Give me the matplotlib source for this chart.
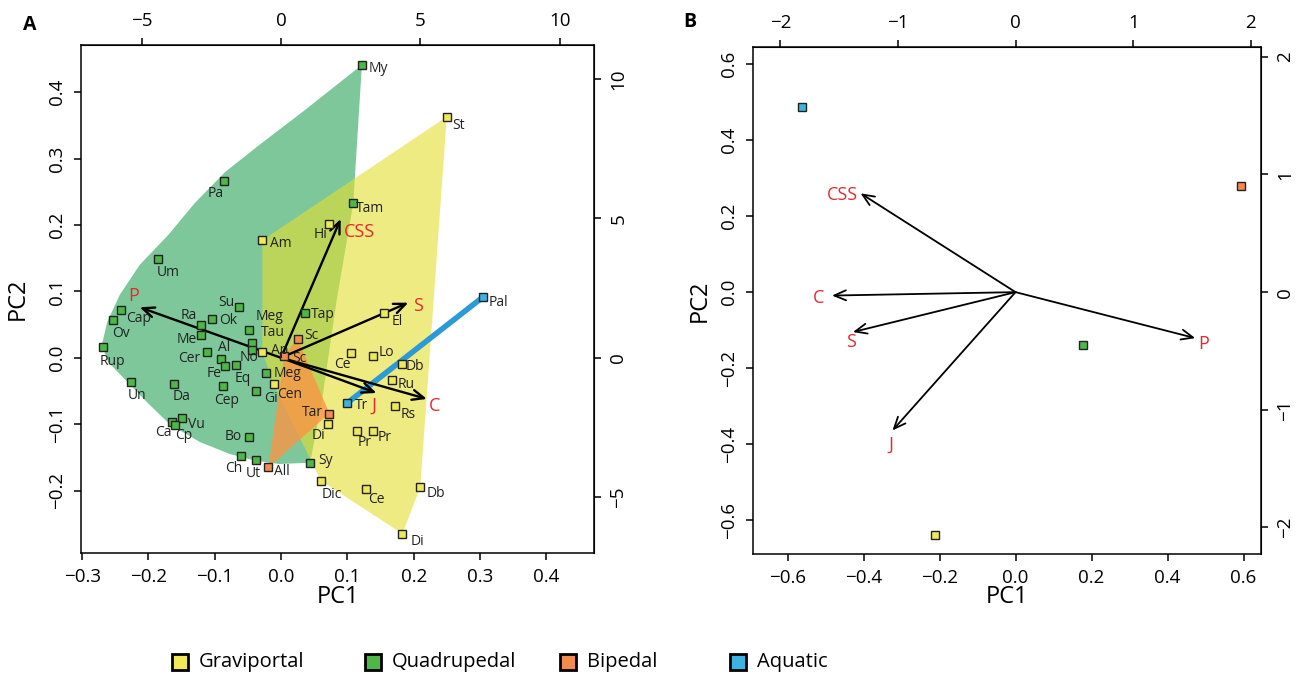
import numpy as np
import matplotlib.pyplot as plt
from matplotlib.lines import Line2D

plt.rcParams['font.family'] = ['Open Sans', 'DejaVu Sans']

# ---------------- Panel A: species scores (PC1, PC2) ----------------
grav_names = ['Am', 'Ap', 'Cen', 'Hi', 'St', 'El', 'Ce', 'Lo', 'Db', 'Ru', 'Rs',
              'Di', 'Pr', 'Pr', 'Dic', 'Ce', 'Db', 'Di']
grav_pc1 = [-0.028, -0.028, -0.011, 0.073, 0.250, 0.155, 0.106, 0.138, 0.182, 0.168, 0.172,
            0.071, 0.115, 0.138, 0.060, 0.128, 0.210, 0.183]
grav_pc2 = [0.177, 0.008, -0.040, 0.202, 0.363, 0.067, 0.007, 0.003, -0.009, -0.034, -0.073,
            -0.100, -0.110, -0.111, -0.185, -0.197, -0.195, -0.265]

quad_names = ['My', 'Pa', 'Tam', 'Um', 'Cap', 'Ov', 'Rup', 'Ra', 'Me', 'Ok', 'Su', 'Meg',
              'Tau', 'No', 'Tap', 'Al', 'Cer', 'Fe', 'Eq', 'Meg', 'Gi', 'Cep', 'Un', 'Da',
              'Vu', 'Ca', 'Cp', 'Bo', 'Ch', 'Ut', 'Sy']
quad_pc1 = [0.122, -0.086, 0.109, -0.186, -0.241, -0.253, -0.268, -0.121, -0.121, -0.104,
            -0.063, -0.049, -0.043, -0.043, 0.036, -0.091, -0.112, -0.084, -0.068, -0.022,
            -0.038, -0.087, -0.226, -0.162, -0.149, -0.164, -0.160, -0.048, -0.061, -0.037,
            0.044]
quad_pc2 = [0.441, 0.266, 0.233, 0.149, 0.072, 0.057, 0.016, 0.049, 0.034, 0.058, 0.076,
            0.042, 0.022, 0.012, 0.068, -0.002, 0.009, -0.013, -0.011, -0.023, -0.050,
            -0.043, -0.037, -0.039, -0.090, -0.096, -0.101, -0.119, -0.148, -0.154, -0.158]

biped_names = ['Sc', 'Sc', 'Tar', 'All']
biped_pc1 = [0.025, 0.005, 0.073, -0.019]
biped_pc2 = [0.029, 0.003, -0.084, -0.165]

aqua_names = ['Tr', 'Pal']
aqua_pc1 = [0.100, 0.304]
aqua_pc2 = [-0.068, 0.091]

# outline of the quadrupedal region as drawn in the figure
quad_hull_pc1 = [0.122, 0.036, -0.032, -0.084, -0.130, -0.170, -0.213, -0.243, -0.262,
                 -0.270, -0.261, -0.235, -0.201, -0.167, -0.122, -0.077, -0.039, -0.002,
                 0.044, 0.062, 0.084, 0.109]
quad_hull_pc2 = [0.441, 0.373, 0.321, 0.280, 0.233, 0.185, 0.140, 0.095, 0.054, 0.020,
                 -0.006, -0.033, -0.068, -0.101, -0.127, -0.145, -0.155, -0.160, -0.158,
                 -0.063, 0.087, 0.233]

# variable loadings, panel A
vars_a = ['P', 'CSS', 'S', 'J', 'C']
load_a_pc1 = [-0.213, 0.090, 0.192, 0.144, 0.220]
load_a_pc2 = [0.076, 0.209, 0.083, -0.053, -0.062]

# ---------------- Panel B: group means ----------------
groups = ['Graviportal', 'Quadrupedal', 'Bipedal', 'Aquatic']
mean_pc1 = [-0.211, 0.177, 0.594, -0.563]
mean_pc2 = [-0.640, -0.138, 0.278, 0.487]

vars_b = ['CSS', 'C', 'S', 'J', 'P']
load_b_pc1 = [-0.408, -0.483, -0.428, -0.324, 0.473]
load_b_pc2 = [0.260, -0.009, -0.105, -0.364, -0.121]

# ---------------- styling ----------------
marker_col = {'Graviportal': '#EFE95A', 'Quadrupedal': '#4DB748',
              'Bipedal': '#F38A4E', 'Aquatic': '#3BB3E3'}
red = '#E8282E'

# label offsets (pixels) for the species names
grav_off = [(18, -3), (17, 2), (16, -10), (-9, -11), (12, -9), (13, -8), (-9, -11), (14, 3),
            (13, -3), (14, -4), (13, -8), (-10, -11), (7, -12), (12, -6), (11, -14),
            (10, -11), (16, -6), (15, -8)]
quad_off = [(16, -4), (-8, -12), (17, -5), (11, -14), (17, -9), (8, -14), (9, -14), (-12, 10),
            (-14, -4), (16, -1), (-13, 5), (21, 13), (20, 11), (-3, -8), (18, -2), (3, 12),
            (-18, -7), (-11, -7), (7, -13), (21, 0), (15, -8), (3, -14), (6, -13), (8, -13),
            (14, -7), (-9, -11), (9, -11), (-16, 0), (-7, -12), (-3, -13), (15, 2)]
biped_off = [(14, 3), (15, -3), (-17, 1), (13, -4)]
aqua_off = [(14, -3), (16, -5)]
vars_a_off = [(-6, 11), (19, -13), (10, -3), (-3, -13), (8, -7)]
vars_b_off = [(-18, -2), (-13, -2), (-2, -10), (-2, -14), (8, -6)]


def convex_hull(xs, ys):
    pts = sorted(set(zip(xs, ys)))

    def cross(o, a, b):
        return (a[0] - o[0]) * (b[1] - o[1]) - (a[1] - o[1]) * (b[0] - o[0])
    lower, upper = [], []
    for p in pts:
        while len(lower) >= 2 and cross(lower[-2], lower[-1], p) <= 0:
            lower.pop()
        lower.append(p)
    for p in reversed(pts):
        while len(upper) >= 2 and cross(upper[-2], upper[-1], p) <= 0:
            upper.pop()
        upper.append(p)
    h = lower[:-1] + upper[:-1]
    return [p[0] for p in h], [p[1] for p in h]


W, H = 1316, 687
fig = plt.figure(figsize=(W / 100, H / 100), dpi=100)


def px_axes(left, right, top, bottom):
    return fig.add_axes([left / W, 1 - bottom / H, (right - left) / W, (bottom - top) / H])


def style_axes(ax, factor, top_ticks, xt, yt):
    for s in ax.spines.values():
        s.set_linewidth(1.1)
    ax.tick_params(direction='out', length=5, width=1.1, labelsize=13.5, pad=6)
    ax.set_xticks(xt, [f'{v:.1f}'.replace('-', '\u2212') for v in xt])
    ax.set_yticks(yt, [f'{v:.1f}'.replace('-', '\u2212') for v in yt])
    ax.tick_params(axis='y', labelrotation=90)
    plt.setp(ax.get_yticklabels(), va='center')
    top = ax.secondary_xaxis('top', functions=(lambda v: v * factor, lambda v: v / factor))
    right = ax.secondary_yaxis('right', functions=(lambda v: v * factor, lambda v: v / factor))
    for sec in (top, right):
        sec.tick_params(direction='out', length=5, width=1.1, labelsize=13.5, pad=6)
        sec.set_ticks(top_ticks, [str(v).replace('-', '\u2212') for v in top_ticks])
    right.tick_params(labelrotation=90)
    plt.setp(right.get_yticklabels(), va='center')
    ax.set_xlabel('PC1', fontsize=17)
    ax.set_ylabel('PC2', fontsize=17)


# ---------------- Panel A ----------------
axA = px_axes(81.4, 594, 45, 553)
axA.set_xlim(-0.301, 0.472)
axA.set_ylim(-0.294, 0.471)

axA.fill(quad_hull_pc1, quad_hull_pc2, color='#28A258', alpha=0.6, lw=0, zorder=1)
hx, hy = convex_hull(grav_pc1, grav_pc2)
axA.fill(hx, hy, color='#E3DF2F', alpha=0.6, lw=0, zorder=1)
hx, hy = convex_hull(biped_pc1, biped_pc2)
axA.fill(hx, hy, color='#FA9646', alpha=0.8, lw=0, zorder=1)
axA.plot(aqua_pc1, aqua_pc2, color='#2B9AD6', lw=4, solid_capstyle='butt', zorder=2)

for v, x, y, off in zip(vars_a, load_a_pc1, load_a_pc2, vars_a_off):
    axA.annotate('', xy=(x, y), xytext=(0, 0),
                 arrowprops=dict(arrowstyle='->,head_length=0.7,head_width=0.3',
                                 lw=1.7, color='black', shrinkA=0, shrinkB=0,
                                 mutation_scale=12), zorder=3)
    axA.annotate(v, (x, y), xytext=off, textcoords='offset pixels', ha='center',
                 va='center', color=red, fontsize=13, zorder=5)

for grp, names, xs, ys, offs in [('Graviportal', grav_names, grav_pc1, grav_pc2, grav_off),
                                 ('Quadrupedal', quad_names, quad_pc1, quad_pc2, quad_off),
                                 ('Bipedal', biped_names, biped_pc1, biped_pc2, biped_off),
                                 ('Aquatic', aqua_names, aqua_pc1, aqua_pc2, aqua_off)]:
    axA.plot(xs, ys, 's', ms=6.3, mfc=marker_col[grp], mec='#222222', mew=1.0, zorder=4)
    for n, x, y, off in zip(names, xs, ys, offs):
        axA.annotate(n, (x, y), xytext=off, textcoords='offset pixels', ha='center',
                     va='center', fontsize=10, color='#222222', zorder=5)

style_axes(axA, 23.8, [-5, 0, 5, 10],
           [-0.3, -0.2, -0.1, 0.0, 0.1, 0.2, 0.3, 0.4],
           [-0.2, -0.1, 0.0, 0.1, 0.2, 0.3, 0.4])
axA.xaxis.set_label_coords(0.5, -0.087)
axA.xaxis.label.set_va('center')
axA.yaxis.set_label_coords(-0.124, 0.5)
axA.yaxis.label.set_va('center')

# ---------------- Panel B ----------------
axB = px_axes(753, 1261, 47, 554)
axB.set_xlim(-0.691, 0.646)
axB.set_ylim(-0.689, 0.645)

for v, x, y, off in zip(vars_b, load_b_pc1, load_b_pc2, vars_b_off):
    axB.annotate('', xy=(x, y), xytext=(0, 0),
                 arrowprops=dict(arrowstyle='->,head_length=0.7,head_width=0.3',
                                 lw=1.3, color='black', shrinkA=0, shrinkB=0,
                                 mutation_scale=12), zorder=3)
    axB.annotate(v, (x, y), xytext=off, textcoords='offset pixels', ha='center',
                 va='center', color=red, fontsize=13, zorder=5)

for g, x, y in zip(groups, mean_pc1, mean_pc2):
    axB.plot([x], [y], 's', ms=6.3, mfc=marker_col[g], mec='#222222', mew=1.0, zorder=4)

style_axes(axB, 3.23, [-2, -1, 0, 1, 2],
           [-0.6, -0.4, -0.2, 0.0, 0.2, 0.4, 0.6],
           [-0.6, -0.4, -0.2, 0.0, 0.2, 0.4, 0.6])
axB.xaxis.set_label_coords(0.5, -0.085)
axB.xaxis.label.set_va('center')
axB.yaxis.set_label_coords(-0.105, 0.5)
axB.yaxis.label.set_va('center')

# panel letters
fig.text(30 / W, 1 - 25 / H, 'A', fontsize=14, fontweight='bold', ha='center', va='center')
fig.text(690 / W, 1 - 22 / H, 'B', fontsize=14, fontweight='bold', ha='center', va='center')

# legend
leg_x = [180, 373, 568, 738]
for g, x in zip(groups, leg_x):
    fig.add_artist(Line2D([x / W], [1 - 662 / H], marker='s', ms=11, mfc=marker_col[g],
                          mec='black', mew=2, transform=fig.transFigure))
    fig.text((x + 19) / W, 1 - 662 / H, g, fontsize=14.5, ha='left', va='center')

fig.savefig('out.png', dpi=100)
